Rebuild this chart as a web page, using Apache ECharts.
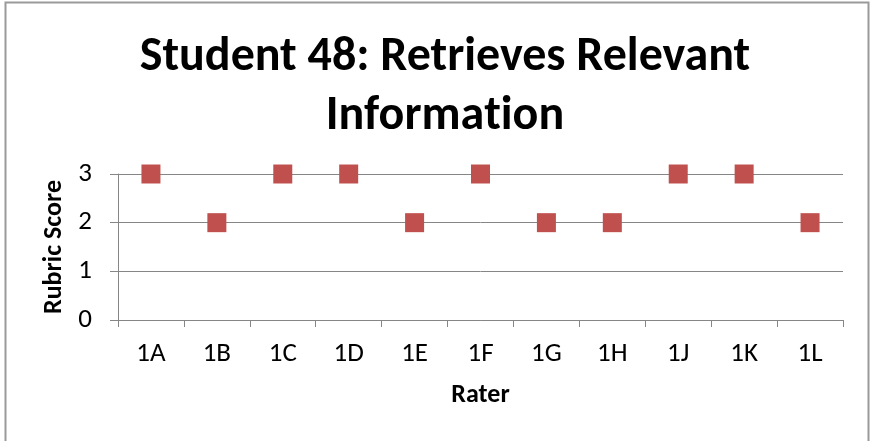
<!DOCTYPE html>
<html>
<head>
<meta charset="utf-8">
<script src="https://cdn.jsdelivr.net/npm/echarts@6/dist/echarts.min.js"></script>
<style>
  html, body { margin: 0; padding: 0; background: #fff; }
  #chart { width: 872px; height: 441px; }
</style>
</head>
<body>
<div id="chart"></div>
<script>
// Raters and the rubric score each one gave
const raters = ['1A', '1B', '1C', '1D', '1E', '1F', '1G', '1H', '1J', '1K', '1L'];
const scores = [3, 2, 3, 3, 2, 3, 2, 2, 3, 3, 2];
const yTicks = [0, 1, 2, 3];

const FONT = 'Carlito, Lato, "Liberation Sans", sans-serif';
const GRAY = '#868686';

const titleStyle = {
  fontFamily: FONT,
  fontWeight: 'bold',
  fontSize: 48,
  lineHeight: 59,
  color: '#000'
};

const chart = echarts.init(document.getElementById('chart'));
chart.setOption({
  animation: false,
  backgroundColor: '#ffffff',
  graphic: [{
    type: 'rect',
    shape: { x: 5.5, y: 2.5, width: 863, height: 460 },
    style: { fill: 'none', stroke: '#9a9a9a', lineWidth: 2 },
    silent: true
  }],
  title: {
    // the "t" is its own rich segment so the font does not fuse "ti" into a ligature
    text: 'Student 48: Retrieves Relevant\nInforma{t|t}ion',
    left: 440,
    top: 23,
    textAlign: 'center',
    textStyle: Object.assign({}, titleStyle, { rich: { t: titleStyle } })
  },
  grid: { left: 118, right: 29, top: 174, bottom: 121 },
  xAxis: {
    type: 'category',
    data: raters,
    boundaryGap: true,
    name: 'Rater',
    nameLocation: 'middle',
    nameGap: 62,
    nameTextStyle: { fontFamily: FONT, fontWeight: 'bold', fontSize: 26, color: '#000', verticalAlign: 'top' },
    axisLine: { lineStyle: { color: GRAY, width: 1 } },
    axisTick: { show: true, interval: 0, length: 7, lineStyle: { color: GRAY } },
    axisLabel: { interval: 0, margin: 21, fontFamily: FONT, fontSize: 27, color: '#000' },
    splitLine: { show: false }
  },
  yAxis: {
    type: 'value',
    min: yTicks[0],
    max: yTicks[yTicks.length - 1],
    interval: 1,
    name: 'Rubric Score',
    nameLocation: 'middle',
    nameGap: 48,
    nameTextStyle: { fontFamily: FONT, fontWeight: 'bold', fontSize: 26, color: '#000' },
    axisLine: { show: true, lineStyle: { color: GRAY, width: 1 } },
    axisTick: { show: true, length: 8, lineStyle: { color: GRAY } },
    axisLabel: { margin: 26, fontFamily: FONT, fontSize: 27, color: '#000' },
    splitLine: { show: true, lineStyle: { color: GRAY, width: 1 } }
  },
  series: [{
    type: 'scatter',
    data: scores,
    symbol: 'rect',
    symbolSize: 19,
    itemStyle: { color: '#C0504D', opacity: 1 }
  }]
});
</script>
</body>
</html>
